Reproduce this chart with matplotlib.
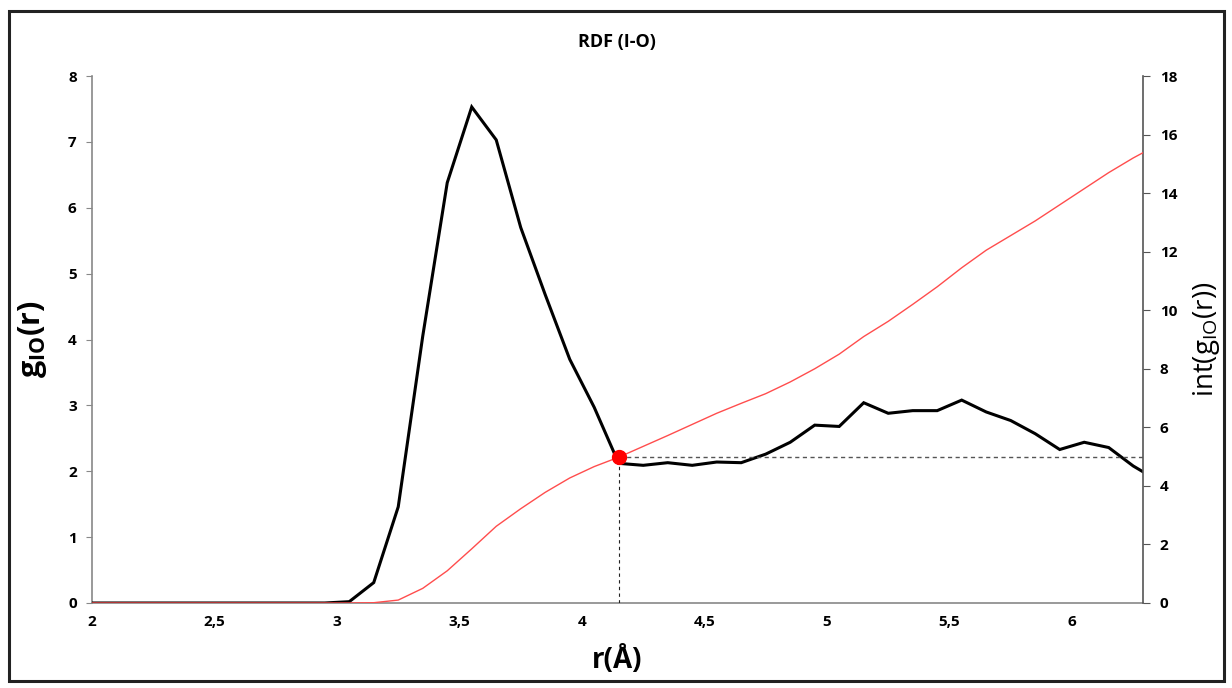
import matplotlib
matplotlib.use("Agg")
import matplotlib.pyplot as plt
from matplotlib.patches import Rectangle
from matplotlib.ticker import FuncFormatter

plt.rcParams['font.family'] = ['Open Sans', 'DejaVu Sans']
plt.rcParams['mathtext.fontset'] = 'custom'
plt.rcParams['mathtext.rm'] = 'Open Sans'
plt.rcParams['mathtext.it'] = 'Open Sans:italic'
plt.rcParams['mathtext.bf'] = 'Open Sans:bold'

# ---- data ----
r = [1.95, 2.05, 2.15, 2.25, 2.35, 2.45, 2.55, 2.65, 2.75, 2.85, 2.95,
     3.05, 3.15, 3.25, 3.35, 3.45, 3.55, 3.65, 3.75, 3.85, 3.95,
     4.05, 4.15, 4.25, 4.35, 4.45, 4.55, 4.65, 4.75, 4.85, 4.95,
     5.05, 5.15, 5.25, 5.35, 5.45, 5.55, 5.65, 5.75, 5.85, 5.95,
     6.05, 6.15, 6.25, 6.35]
g_io = [0, 0, 0, 0, 0, 0, 0, 0, 0, 0, 0,
        0.02, 0.31, 1.46, 4.05, 6.38, 7.53, 7.03, 5.70, 4.68, 3.70,
        2.97, 2.12, 2.09, 2.13, 2.09, 2.14, 2.13, 2.26, 2.44, 2.70,
        2.68, 3.04, 2.88, 2.92, 2.92, 3.08, 2.90, 2.77, 2.57, 2.33,
        2.44, 2.36, 2.08, 1.86]
int_g = [0, 0, 0, 0, 0, 0, 0, 0, 0, 0, 0,
         0, 0.01, 0.10, 0.50, 1.10, 1.85, 2.62, 3.22, 3.78, 4.27,
         4.66, 4.98, 5.35, 5.72, 6.10, 6.48, 6.82, 7.15, 7.55, 8.00,
         8.50, 9.10, 9.62, 10.20, 10.80, 11.45, 12.05, 12.55, 13.05, 13.60,
         14.15, 14.70, 15.20, 15.65]
r_min = 4.15
int_at_min = 4.98

title = "RDF (I-O)"
xticks = [2, 2.5, 3, 3.5, 4, 4.5, 5, 5.5, 6]
yticks_left = [0, 1, 2, 3, 4, 5, 6, 7, 8]
yticks_right = [0, 2, 4, 6, 8, 10, 12, 14, 16, 18]

# ---- figure ----
fig = plt.figure(figsize=(12.32, 6.88), dpi=100)
ax = fig.add_axes([92/1232, 1-603/688, (1143-92)/1232, (603-76)/688])
ax2 = ax.twinx()

ax.plot(r, g_io, color='black', lw=2.2, solid_joinstyle='miter', zorder=3)
ax2.plot(r, int_g, color='#ff4d4d', lw=1.0, zorder=3)

x_max = 6.29
ax.set_xlim(2, x_max)
ax.set_ylim(0, 8)
ax2.set_ylim(0, 18)

# guide lines and marker at the first minimum
ax2.plot([r_min, r_min], [0, int_at_min], color='#222222', lw=0.8,
         ls=(0, (3, 3)), zorder=2)
ax2.plot([r_min, x_max], [int_at_min, int_at_min], color='#555555', lw=1.0,
         ls=(0, (3, 2.5)), zorder=2)
ax2.plot([r_min], [int_at_min], 'o', color='#ff0000', ms=10, zorder=5)

ax.set_xticks(xticks)
ax.xaxis.set_major_formatter(FuncFormatter(lambda v, p: ('%g' % v).replace('.', ',')))
ax.set_yticks(yticks_left)
ax2.set_yticks(yticks_right)

gray = '#888888'
for a in (ax, ax2):
    a.spines['top'].set_visible(False)
    for s in ('left', 'right', 'bottom'):
        a.spines[s].set_color(gray)
        a.spines[s].set_linewidth(1.2)
ax.spines['right'].set_visible(False)
ax2.spines['left'].set_visible(False)
ax2.spines['bottom'].set_visible(False)
ax2.spines['right'].set_color('#555555')

ax.tick_params(axis='y', direction='out', length=4, color=gray, pad=7)
ax.tick_params(axis='x', direction='out', length=0, pad=9)
ax2.tick_params(axis='y', direction='out', length=5, color='#555555', pad=7)
for lab in ax.get_xticklabels() + ax.get_yticklabels() + ax2.get_yticklabels():
    lab.set_fontweight('bold')
    lab.set_fontsize(11)

ax.set_ylabel(r'$\mathbf{g_{IO}(r)}$', fontsize=22, labelpad=14)
ax2.set_ylabel(r'int(g$_{\mathrm{IO}}$(r))', fontsize=20, labelpad=10)
ax.set_xlabel('r(Å)', fontsize=20, fontweight='bold', labelpad=12)
fig.text(617/1232, 1-42/688, title, ha='center', va='center',
         fontsize=13, fontweight='bold')

# outer frame
fig.patches.append(Rectangle((9/1232, 1-681/688), (1224-9)/1232, (681-11)/688,
                             transform=fig.transFigure, fill=False,
                             edgecolor='#222222', lw=2.2))

fig.savefig('out.png', dpi=100)
